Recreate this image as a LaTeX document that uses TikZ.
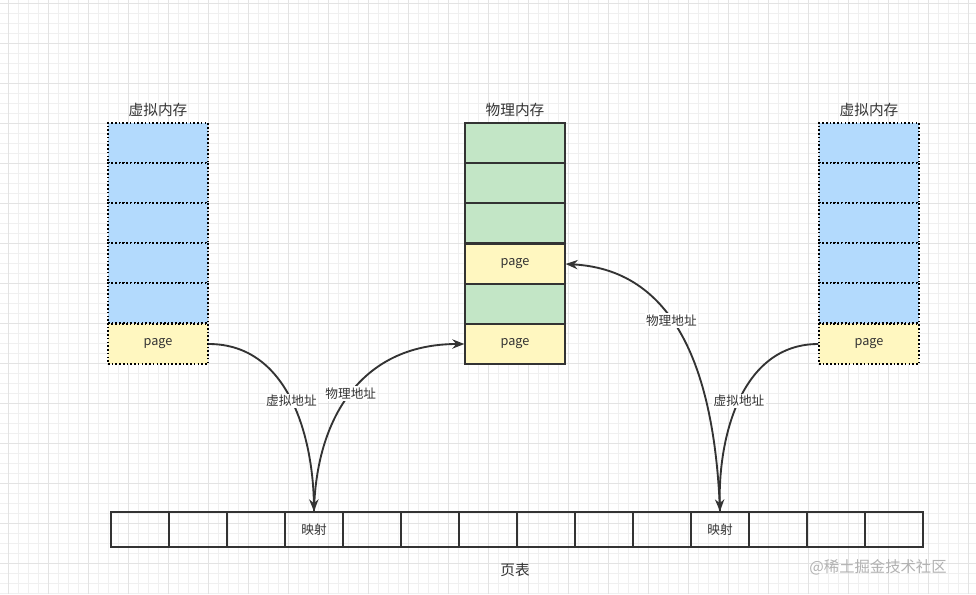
\documentclass[tikz,border=0pt]{standalone}
\usepackage{fontspec}
\setmainfont{Noto Sans CJK SC}
\usetikzlibrary{arrows.meta}
\definecolor{vb}{HTML}{B3DAFD}
\definecolor{pg}{HTML}{C3E6C6}
\definecolor{py}{HTML}{FFF7C0}
\definecolor{ln}{HTML}{333333}
\begin{document}
\begin{tikzpicture}[x=0.75pt,y=-0.75pt,
 vcell/.style={draw=black,dash pattern=on 1.2pt off 1.6pt,line width=1pt,minimum width=100*0.75pt,minimum height=40*0.75pt,inner sep=0,font=\fontsize{9.5}{10}\selectfont,text=ln},
 pcell/.style={draw=ln,line width=1pt,minimum width=100*0.75pt,minimum height=40*0.75pt,inner sep=0,font=\fontsize{9.5}{10}\selectfont,text=ln},
 tcell/.style={draw=ln,line width=1pt,minimum width=58*0.75pt,minimum height=35*0.75pt,inner sep=0,font=\fontsize{9.5}{10}\selectfont,text=ln},
 ttl/.style={font=\fontsize{11}{12}\selectfont,text=ln},
 lbl/.style={fill=white,inner sep=1pt,font=\fontsize{9.5}{10}\selectfont,text=ln},
 arr/.style={draw=ln,line width=1.4pt,-{Stealth[length=9pt,width=7pt]}}]
\useasboundingbox (0,0) rectangle (976,594);
\fill[white] (0,0) rectangle (976,594);
\foreach \x in {8,18,...,976} \draw[gray!12,line width=0.4pt] (\x,0) -- (\x,594);
\foreach \y in {3,13,...,594} \draw[gray!12,line width=0.4pt] (0,\y) -- (976,\y);
\foreach \x in {8,48,...,976} \draw[gray!22,line width=0.5pt] (\x,0) -- (\x,594);
\foreach \y in {3,43,...,594} \draw[gray!22,line width=0.5pt] (0,\y) -- (976,\y);
% left virtual
\node[ttl] (tl) at (158,110) {虚拟内存};
\foreach \i in {1,...,5} \node[vcell,fill=vb] (l\i) at (158,103+40*\i) {};
\node[vcell,fill=py] (l6) at (158,344) {page};
% right virtual
\node[ttl] (tr) at (869,110) {虚拟内存};
\foreach \i in {1,...,5} \node[vcell,fill=vb] (r\i) at (869,103+40*\i) {};
\node[vcell,fill=py] (r6) at (869,344) {page};
% physical
\node[ttl] (tm) at (515,110) {物理内存};
\node[pcell,fill=pg] (m1) at (515,143) {};
\node[pcell,fill=pg] (m2) at (515,183) {};
\node[pcell,fill=pg] (m3) at (515,223) {};
\node[pcell,fill=py] (m4) at (515,264) {page};
\node[pcell,fill=pg] (m5) at (515,304) {};
\node[pcell,fill=py] (m6) at (515,344) {page};
% page table
\foreach \i in {1,...,14} {
  \ifnum\i=4 \def\t{映射}\else\ifnum\i=11 \def\t{映射}\else\def\t{}\fi\fi
  \node[tcell] (t\i) at (111+29+58*\i-58,529.5) {\t};
}
\node[ttl] (tt) at (515,570) {页表};
\node[font=\fontsize{11.5}{12}\selectfont,text=gray!60] (wm) at (878,567) {@稀土掘金技术社区};
% arrows
\draw[arr] (l6.east) .. controls (290,344) and (313,440) .. node[lbl,pos=0.5] {虚拟地址} (t4.north);
\draw[arr] (t4.north) .. controls (316,420) and (360,344) .. node[lbl,pos=0.5] {物理地址} (m6.west);
\draw[arr] (r6.west) .. controls (740,344) and (718,440) .. node[lbl,pos=0.5] {虚拟地址} (t11.north);
\draw[arr] (t11.north) .. controls (715,380) and (680,270) .. node[lbl,pos=0.58] {物理地址} (m4.east);
\end{tikzpicture}
\end{document}
